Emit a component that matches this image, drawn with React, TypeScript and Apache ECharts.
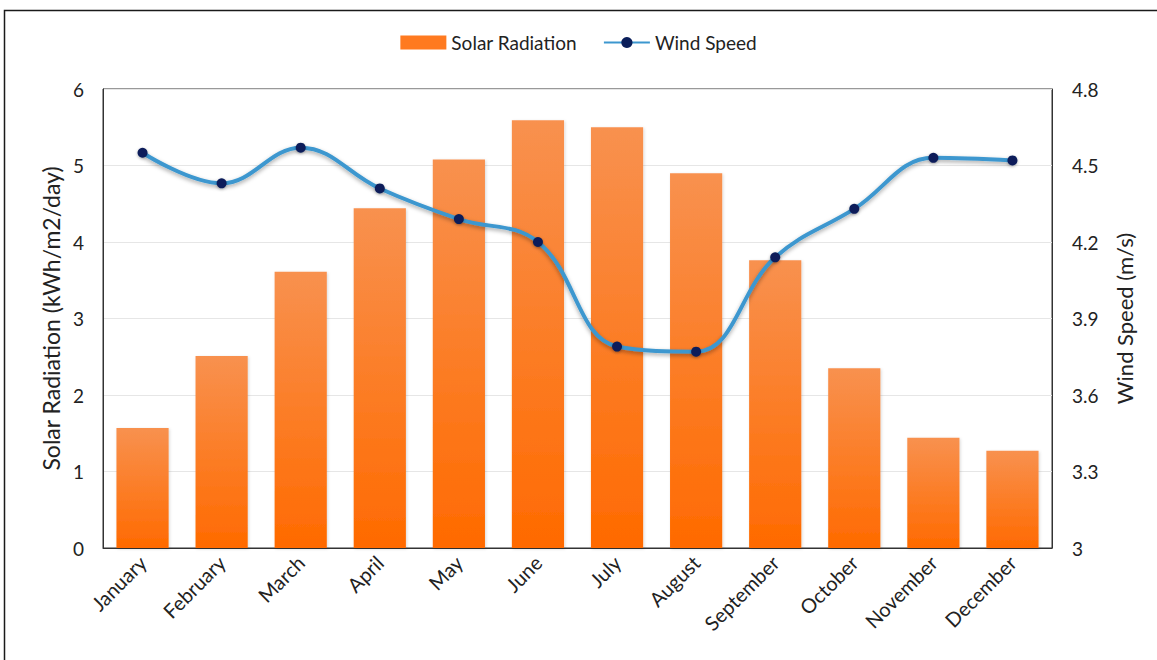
import React, { useEffect, useRef } from "react";
import * as echarts from "echarts";

const months = ["January", "February", "March", "April", "May", "June", "July", "August", "September", "October", "November", "December"];
const solarRadiation = [1.57, 2.51, 3.61, 4.44, 5.08, 5.59, 5.5, 4.9, 3.76, 2.35, 1.44, 1.27];
const windSpeed = [4.55, 4.43, 4.57, 4.41, 4.29, 4.2, 3.79, 3.77, 4.14, 4.33, 4.53, 4.52];

const FONT = "Lato";

export default function App() {
  const ref = useRef<HTMLDivElement>(null);
  useEffect(() => {
    if (!ref.current) return;
    const chart = echarts.init(ref.current, null, { renderer: "svg" });
    chart.setOption({
      animation: false,
      backgroundColor: "#ffffff",
      textStyle: { fontFamily: FONT },
      graphic: [
        {
          type: "rect",
          shape: { x: 4.5, y: 10.5, width: 1170, height: 680 },
          style: { fill: "none", stroke: "#1a1a1a", lineWidth: 1.5 },
          silent: true,
        },
      ],
      legend: {
        top: 28,
        left: "center",
        itemGap: 26,
        textStyle: { fontFamily: FONT, fontSize: 19, color: "#222" },
        data: [
          { name: "Solar Radiation", icon: "rect", itemStyle: { color: "#FF7A20" } },
          { name: "Wind Speed" },
        ],
        itemWidth: 46,
        itemHeight: 14,
      },
      grid: {
        left: 103,
        right: 105,
        top: 89,
        bottom: 112,
        show: true,
        borderColor: "#333",
        borderWidth: 1,
        backgroundColor: "transparent",
      },
      xAxis: {
        type: "category",
        data: months,
        axisTick: { show: false },
        axisLine: { lineStyle: { color: "#333" } },
        axisLabel: { rotate: 45, fontSize: 20, color: "#222", fontFamily: FONT, margin: 11 },
      },
      yAxis: [
        {
          type: "value",
          min: 0,
          max: 6,
          interval: 1,
          name: "Solar Radiation (kWh/m2/day)",
          nameLocation: "middle",
          nameGap: 36,
          nameRotate: 90,
          nameTextStyle: { fontSize: 23, color: "#222", fontFamily: FONT },
          axisLine: { show: true, lineStyle: { color: "#333" } },
          axisTick: { show: false },
          axisLabel: { fontSize: 19, color: "#222", margin: 19, fontFamily: FONT },
          splitLine: { lineStyle: { color: "#e6e6e6" } },
        },
        {
          type: "value",
          min: 3,
          max: 4.8,
          interval: 0.3,
          name: "Wind Speed (m/s)",
          nameLocation: "middle",
          nameGap: 61,
          nameRotate: 90,
          nameTextStyle: { fontSize: 22, color: "#222", fontFamily: FONT },
          axisLine: { show: true, lineStyle: { color: "#333" } },
          axisTick: { show: false },
          axisLabel: {
            fontSize: 19,
            color: "#222",
            margin: 20,
            fontFamily: FONT,
            formatter: (v: number) => String(Math.round(v * 10) / 10),
          },
          splitLine: { show: false },
        },
      ],
      series: [
        {
          name: "Solar Radiation",
          type: "bar",
          data: solarRadiation,
          barWidth: "66%",
          itemStyle: {
            color: new echarts.graphic.LinearGradient(0, 0, 0, 1, [
              { offset: 0, color: "#F8914F" },
              { offset: 1, color: "#FF6A00" },
            ]),
            shadowColor: "rgba(0,0,0,0.15)",
            shadowBlur: 3,
            shadowOffsetX: 1,
            shadowOffsetY: 1,
          },
        },
        {
          name: "Wind Speed",
          type: "line",
          yAxisIndex: 1,
          data: windSpeed,
          smooth: 0.4,
          symbol: "circle",
          symbolSize: 10,
          lineStyle: {
            color: "#3C97CF",
            width: 4,
            shadowColor: "rgba(0,0,0,0.35)",
            shadowBlur: 4,
            shadowOffsetY: 2,
          },
          itemStyle: {
            color: "#0A1E5A",
            borderWidth: 0,
            shadowColor: "rgba(0,0,0,0.3)",
            shadowBlur: 3,
            shadowOffsetY: 1,
          },
        },
      ],
    });
    return () => chart.dispose();
  }, []);
  return <div ref={ref} style={{ position: "absolute", left: 0, top: 0, width: 1157, height: 660 }} />;
}
